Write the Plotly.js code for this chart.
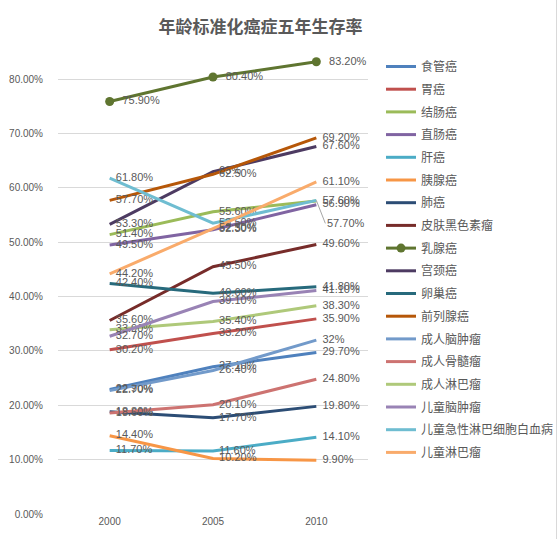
<!DOCTYPE html>
<html>
<head>
<meta charset="utf-8">
<script src="https://cdn.plot.ly/plotly-3.0.1.min.js"></script>
<style>
  html, body { margin: 0; padding: 0; background: #fff; }
  #wrap { position: relative; width: 560px; height: 539px; }
  #chart { width: 560px; height: 539px; }
  #edge { position: absolute; left: 556px; top: 0; width: 1px; height: 539px; background: #D9D9D9; }
</style>
</head>
<body>
<div id="wrap"><div id="chart"></div><div id="edge"></div></div>
<script>
// ---- data ----
const years = ['2000', '2005', '2010'];

const names = ['食管癌', '胃癌', '结肠癌', '直肠癌', '肝癌', '胰腺癌', '肺癌', '皮肤黑色素瘤', '乳腺癌',
  '宫颈癌', '卵巢癌', '前列腺癌', '成人脑肿瘤', '成人骨髓瘤', '成人淋巴瘤', '儿童脑肿瘤',
  '儿童急性淋巴细胞白血病', '儿童淋巴瘤'];

const esophagus   = [22.9, 27.1, 29.7];
const stomach     = [30.2, 33.2, 35.9];
const colon       = [51.4, 55.6, 57.6];
const rectum      = [49.5, 52.3, 56.9];
const liver       = [11.7, 11.6, 14.1];
const pancreas    = [14.4, 10.2, 9.9];
const lung        = [18.8, 17.7, 19.8];
const melanoma    = [35.6, 45.5, 49.6];
const breast      = [75.9, 80.4, 83.2];
const cervix      = [53.3, 63, 67.6];
const ovary       = [42.4, 40.6, 41.8];
const prostate    = [57.7, 62.5, 69.2];
const adultBrain  = [22.7, 26.4, 32];
const myeloma     = [18.6, 20.1, 24.8];
const adultLymph  = [33.9, 35.4, 38.3];
const childBrain  = [32.7, 39.1, 41.1];
const childALL    = [61.8, 53.5, 57.7];
const childLymph  = [44.2, 52.5, 61.1];

const series = [esophagus, stomach, colon, rectum, liver, pancreas, lung, melanoma, breast,
  cervix, ovary, prostate, adultBrain, myeloma, adultLymph, childBrain, childALL, childLymph];

const colors = ['#4F81BD', '#C0504D', '#9BBB59', '#8064A2', '#4BACC6', '#F79646',
  '#2C4D75', '#772C2A', '#5F7530', '#4D3B62', '#276A7C', '#B65708',
  '#729ACA', '#CD7371', '#AFC97A', '#9983B5', '#6FBDD1', '#F9AB6B'];

// ---- chart ----
const labelFont = { family: 'Liberation Sans, Arial, sans-serif', size: 11, color: '#595959' };
const fmt = v => (Number.isInteger(v) ? String(v) : v.toFixed(2)) + '%';
const pad = '\u00a0\u00a0';
const leaderIdx = 16; // this series' 2010 label is drawn with a leader line

const traces = series.map((vals, i) => {
  const isBreast = i === 8;
  const text = vals.map((v, j) => (i === leaderIdx && j === 2) ? '' : pad + fmt(v));
  return {
    type: 'scatter',
    x: years,
    y: vals,
    name: names[i],
    legendgroup: 'g' + i,
    mode: isBreast ? 'lines+markers+text' : 'lines+text',
    line: { color: colors[i], width: 3 },
    marker: { color: colors[i], size: 9 },
    text: text,
    textposition: 'middle right',
    textfont: labelFont,
    cliponaxis: false,
    hoverinfo: 'x+y+name'
  };
});

const layout = {
  width: 560,
  height: 539,
  margin: { l: 58, r: 192, t: 52, b: 25, autoexpand: false },
  paper_bgcolor: '#ffffff',
  plot_bgcolor: '#ffffff',
  title: {
    text: '<b>年龄标准化癌症五年生存率</b>',
    font: { family: 'Noto Sans CJK SC, sans-serif', size: 17, color: '#595959' },
    x: 0.465, xanchor: 'center', y: 0.95, yanchor: 'middle'
  },
  xaxis: {
    type: 'category',
    range: [-0.5, 2.5],
    showgrid: false, zeroline: false, showline: false,
    ticks: '',
    tickfont: { family: 'Liberation Sans, Arial, sans-serif', size: 10, color: '#595959' },
    fixedrange: true
  },
  yaxis: {
    range: [0, 85],
    dtick: 10,
    tickformat: '.2f',
    ticksuffix: '%',
    showgrid: true, gridcolor: '#D9D9D9', gridwidth: 1,
    zeroline: false, showline: false,
    ticks: '',
    ticklabelstandoff: 14,
    tickfont: { family: 'Liberation Sans, Arial, sans-serif', size: 10, color: '#595959' },
    fixedrange: true
  },
  legend: {
    x: 1.042, xanchor: 'left',
    y: 1.0, yanchor: 'top',
    font: { family: 'Noto Sans CJK SC, sans-serif', size: 12, color: '#595959' },
    tracegroupgap: 3.7,
    traceorder: 'grouped',
    bgcolor: 'rgba(0,0,0,0)'
  },
  annotations: [{
    x: years.length - 1, y: series[leaderIdx][2], xref: 'x', yref: 'y',
    text: fmt(series[leaderIdx][2]),
    showarrow: true, arrowhead: 0, arrowwidth: 1, arrowcolor: '#A6A6A6',
    ax: 9, ay: 23, xanchor: 'left', yanchor: 'middle',
    font: labelFont
  }],
  showlegend: true
};

Plotly.newPlot('chart', traces, layout, { displayModeBar: false, staticPlot: true });
</script>
</body>
</html>
